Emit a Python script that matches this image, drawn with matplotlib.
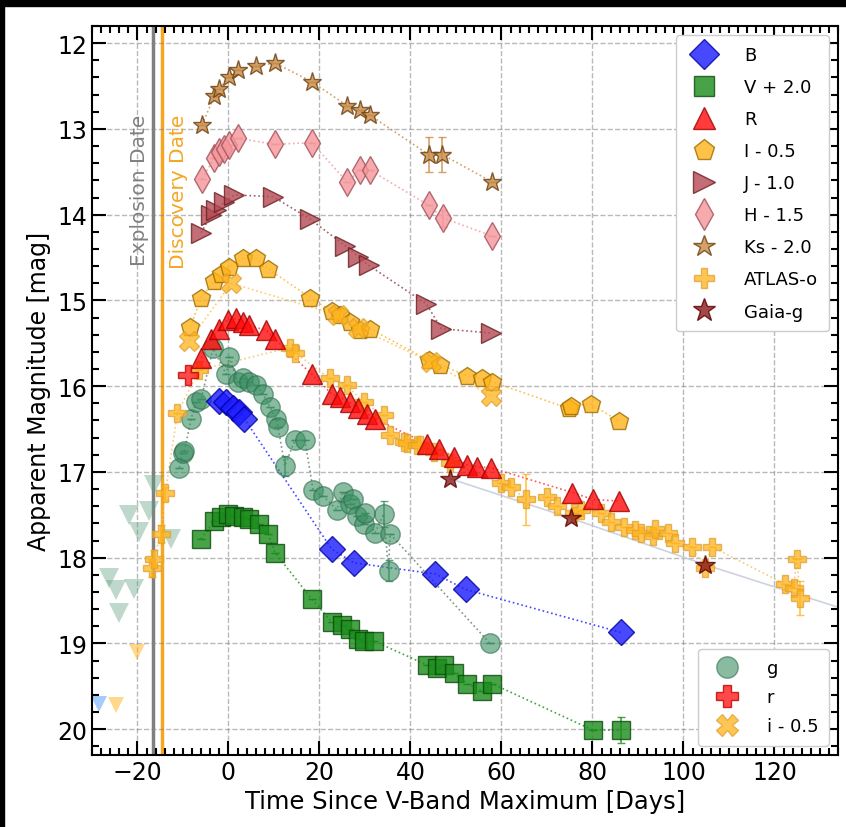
import matplotlib
matplotlib.use('Agg')
import matplotlib.pyplot as plt
from matplotlib.patches import Rectangle
from matplotlib.ticker import MultipleLocator
import numpy as np

# Light curves, days since V-band maximum / apparent magnitude (offsets already applied)
b_t = [-2.0, -0.5, 1.0, 2.4, 3.5, 22.7, 27.6, 45.5, 52.1, 86.2]
b_m = [16.17, 16.19, 16.25, 16.30, 16.38, 17.90, 18.06, 18.19, 18.37, 18.87]

v_t = [-6.0, -3.1, -1.6, -0.2, 1.3, 3.2, 4.6, 6.8, 8.7, 10.2, 18.3, 22.7, 24.9, 26.7,
       28.5, 29.7, 31.9, 43.6, 45.9, 47.4, 49.6, 52.5, 55.8, 58.0, 80.1, 86.2]
v_m = [17.78, 17.57, 17.52, 17.49, 17.51, 17.53, 17.55, 17.61, 17.72, 17.94, 18.48, 18.75,
       18.79, 18.83, 18.95, 18.97, 18.97, 19.25, 19.29, 19.25, 19.35, 19.47, 19.55, 19.47,
       20.01, 20.01]
v_err = [0] * 25 + [0.15]

r_t = [-6.0, -3.8, -2.0, -0.2, 1.7, 3.2, 4.6, 8.3, 10.2, 18.3, 22.7, 24.5, 26.7, 28.5,
       30.4, 32.2, 43.6, 46.2, 49.5, 52.5, 54.7, 57.6, 75.6, 80.1, 85.9]
r_m = [15.67, 15.45, 15.33, 15.23, 15.21, 15.25, 15.29, 15.35, 15.45, 15.86, 16.09, 16.13,
       16.19, 16.26, 16.32, 16.38, 16.67, 16.73, 16.82, 16.92, 16.94, 16.95, 17.24, 17.32,
       17.34]

i_t = [-8.4, -6.0, -3.1, -1.6, 0.2, 3.2, 6.1, 8.7, 18.0, 22.7, 24.5, 26.7, 28.9, 31.1,
       44.0, 46.6, 52.5, 55.8, 58.0, 74.8, 75.3, 79.7, 85.9]
i_m = [15.31, 14.97, 14.77, 14.69, 14.61, 14.51, 14.51, 14.63, 14.97, 15.12, 15.17, 15.25,
       15.35, 15.33, 15.70, 15.75, 15.88, 15.91, 15.95, 16.26, 16.23, 16.21, 16.41]

j_t = [-6.0, -3.8, -2.7, -0.9, 1.3, 9.8, 17.9, 25.6, 28.5, 30.8, 43.5, 46.8, 57.6]
j_m = [14.21, 14.00, 13.95, 13.85, 13.77, 13.79, 14.05, 14.36, 14.49, 14.59, 15.04, 15.33,
       15.38]

h_t = [-5.8, -3.1, -2.0, -0.9, 0.2, 2.1, 10.2, 18.3, 26.1, 28.9, 31.1, 44.0, 47.2, 58.0]
h_m = [13.58, 13.34, 13.27, 13.23, 13.19, 13.11, 13.18, 13.16, 13.62, 13.48, 13.48, 13.89,
       14.04, 14.25]
h_err = [0] * 12 + [0.1, 0]

ks_t = [-5.8, -3.1, -2.0, 0.2, 2.1, 6.1, 10.2, 18.3, 26.1, 28.9, 31.1, 44.0, 47.0, 58.0]
ks_m = [12.95, 12.62, 12.53, 12.39, 12.31, 12.27, 12.23, 12.45, 12.73, 12.78, 12.84, 13.30,
        13.30, 13.62]
ks_err = [0] * 11 + [0.2, 0.2, 0]

atlas_t = [-16.7, -16.3, -14.9, -13.9, -11.2, -6.4, 13.5, 14.6, 22.3, 26.0, 29.7, 34.1,
           35.5, 38.5, 39.2, 41.4, 42.2, 45.1, 48.8, 59.8, 62.0, 65.3, 70.1, 72.3, 76.0,
           77.5, 81.9, 84.1, 87.0, 89.3, 90.7, 93.3, 93.7, 96.6, 98.1, 101.8, 104.7, 106.2,
           122.4, 124.2, 124.9, 125.7]
atlas_m = [18.12, 18.01, 17.72, 17.25, 16.31, 15.81, 15.55, 15.61, 15.91, 15.99, 16.19,
           16.34, 16.57, 16.65, 16.66, 16.69, 16.69, 16.77, 16.89, 17.13, 17.17, 17.32,
           17.29, 17.40, 17.48, 17.44, 17.48, 17.58, 17.64, 17.68, 17.71, 17.75, 17.66,
           17.71, 17.83, 17.87, 18.12, 17.87, 18.31, 18.35, 18.02, 18.47]
atlas_err = [0.1, 0.1, 0.1, 0.08, 0] + [0] * 16 + [0.3] + [0] * 19 + [0.2]

gaia_t = [48.8, 75.3, 104.7, 140.0]
gaia_m = [17.08, 17.54, 18.08, 18.68]

g_t = [-10.8, -10.1, -9.7, -8.2, -7.1, -6.0, -3.4, -0.5, 0.2, 2.0, 3.2, 4.5, 6.1, 7.6, 9.1,
       10.5, 10.9, 12.4, 14.6, 16.8, 18.6, 20.8, 23.8, 25.2, 26.7, 27.4, 28.2, 29.7, 30.0,
       32.2, 34.1, 35.2, 35.5, 57.5]
g_m = [16.95, 16.78, 16.76, 16.38, 16.18, 16.15, 15.56, 15.86, 15.66, 15.95, 15.91, 15.95,
       15.99, 16.09, 16.24, 16.38, 16.48, 16.93, 16.63, 16.63, 17.21, 17.28, 17.44, 17.23,
       17.37, 17.32, 17.51, 17.61, 17.48, 17.71, 17.49, 18.15, 17.72, 19.00]
g_err = [0] * 17 + [0.12] + [0] * 12 + [0.15, 0.12, 0, 0]

rr_t = [-9.0]
rr_m = [15.87]

ii_t = [-8.6, 0.6, 24.0, 28.5, 44.5, 57.6]
ii_m = [15.47, 14.80, 15.17, 15.32, 15.72, 16.11]

# non-detections (upper limits)
g_lim_t = [-26.3, -24.8, -24.1, -21.9, -20.8, -19.7, -17.5, -16.3, -12.7]
g_lim_m = [18.24, 18.38, 18.65, 17.50, 18.36, 17.70, 17.46, 17.15, 17.78]
o_lim_t = [-24.8, -20.0]
o_lim_m = [19.72, 19.10]
b_lim_t = [-28.5]
b_lim_m = [19.70]

t_explosion = -16.5
t_discovery = -14.6

plt.rcParams['font.family'] = 'DejaVu Sans'

fig = plt.figure(figsize=(8.46, 8.28), dpi=100)
ax = fig.add_axes([0.1087, 0.087, 0.882, 0.8804])

def plot_band(t, m, marker, color, edge, ms, label, err=None, alpha=0.8, lcolor=None, ls=':'):
    if lcolor is None:
        lcolor = color
    ax.plot(t, m, ls=ls, color=lcolor, lw=1.2, alpha=0.8, zorder=2)
    if err is not None:
        ax.errorbar(t, m, yerr=err, fmt='none', ecolor=color, elinewidth=1.2, capsize=3,
                    alpha=0.8, zorder=2)
    ax.plot(t, m, ls='none', marker=marker, ms=ms, mfc=color, mec=edge, mew=1.0,
            alpha=alpha, label=label, zorder=3)

plot_band(g_t, g_m, 'o', '#3a8f63', '#2d6e4c', 14, 'g', err=g_err, alpha=0.6, lcolor='#5f7f6a')
plot_band(b_t, b_m, 'D', '#1a1aff', '#0000a0', 13.5, 'B')
plot_band(v_t, v_m, 's', '#1a8c1a', '#0a4a0a', 13, 'V + 2.0', err=v_err)
plot_band(atlas_t, atlas_m, 'P', '#ffb31a', '#e0a030', 13, 'ATLAS-o', err=atlas_err,
          alpha=0.75, lcolor='#f5c060')
plot_band(r_t, r_m, '^', '#ff0a0a', '#a00000', 14, 'R', lcolor='#ff3030')
plot_band(i_t, i_m, 'p', '#ffb31a', '#9a6a00', 13.5, 'I - 0.5')
plot_band(j_t, j_m, '>', '#b54a55', '#6a2020', 14, 'J - 1.0', lcolor='#8a3a40')
plot_band(h_t, h_m, 'd', '#f4959a', '#a05058', 14, 'H - 1.5', err=h_err)
plot_band(ks_t, ks_m, '*', '#c98a45', '#6a4010', 14, 'Ks - 2.0', err=ks_err)
plot_band(gaia_t, gaia_m, '*', '#8b1a1a', '#5a0000', 15, 'Gaia-g', lcolor='#c0c8d8', ls='-')
plot_band(rr_t, rr_m, 'P', '#ff1a1a', '#c00000', 14, 'r')
plot_band(ii_t, ii_m, 'X', '#ffb31a', '#e0a030', 14, 'i - 0.5', alpha=0.75, lcolor='#ffc050')

ax.plot(g_lim_t, g_lim_m, 'v', ms=14, color='#5f9f80', alpha=0.4, mew=0)
ax.plot(o_lim_t, o_lim_m, 'v', ms=12, color='#ffb31a', alpha=0.5, mew=0)
ax.plot(b_lim_t, b_lim_m, 'v', ms=12, color='#4a9aff', alpha=0.5, mew=0)

ax.axvline(t_explosion, color='gray', lw=2.5, zorder=1)
ax.axvline(t_discovery, color='#f5a623', lw=2.5, zorder=1)
ax.text(t_explosion - 1.0, 12.82, 'Explosion Date', rotation=90, color='gray',
        fontsize=14.5, ha='right', va='top')
ax.text(t_discovery + 1.5, 12.82, 'Discovery Date', rotation=90, color='#f5a623',
        fontsize=14.5, ha='left', va='top')

ax.set_xlim(-30, 134)
ax.set_ylim(20.3, 11.8)
ax.xaxis.set_major_locator(MultipleLocator(20))
ax.xaxis.set_minor_locator(MultipleLocator(2))
ax.yaxis.set_major_locator(MultipleLocator(1))
ax.yaxis.set_minor_locator(MultipleLocator(0.2))
ax.tick_params(which='both', direction='in', top=True, right=True, labelsize=17, width=1.5)
ax.tick_params(which='major', length=10)
ax.tick_params(which='minor', length=5)
for s in ax.spines.values():
    s.set_linewidth(1.5)
ax.grid(True, which='major', ls='--', color='gray', alpha=0.55, lw=1)

ax.set_xlabel('Time Since V-Band Maximum [Days]', fontsize=17.5)
ax.set_ylabel('Apparent Magnitude [mag]', fontsize=17)

h, l = ax.get_legend_handles_labels()
order1 = ['B', 'V + 2.0', 'R', 'I - 0.5', 'J - 1.0', 'H - 1.5', 'Ks - 2.0', 'ATLAS-o', 'Gaia-g']
order2 = ['g', 'r', 'i - 0.5']
leg1 = ax.legend([h[l.index(k)] for k in order1], order1, loc='upper right', fontsize=13,
                 markerscale=1.15, labelspacing=0.78, handletextpad=1.2, borderaxespad=0.5,
                 borderpad=0.6, framealpha=1.0)
ax.add_artist(leg1)
ax.legend([h[l.index(k)] for k in order2], order2, loc='lower right', fontsize=13,
          markerscale=1.1, labelspacing=0.6, handletextpad=1.2, borderaxespad=0.5,
          borderpad=0.6, framealpha=1.0)

# dark strips along the top and left edge
fig.add_artist(Rectangle((0, 1 - 7 / 828), 1, 7 / 828, transform=fig.transFigure,
                         color='black', zorder=10))
fig.add_artist(Rectangle((0, 0), 4 / 846, 1, transform=fig.transFigure, color='black',
                         zorder=10))

fig.savefig('out.png', dpi=100)
